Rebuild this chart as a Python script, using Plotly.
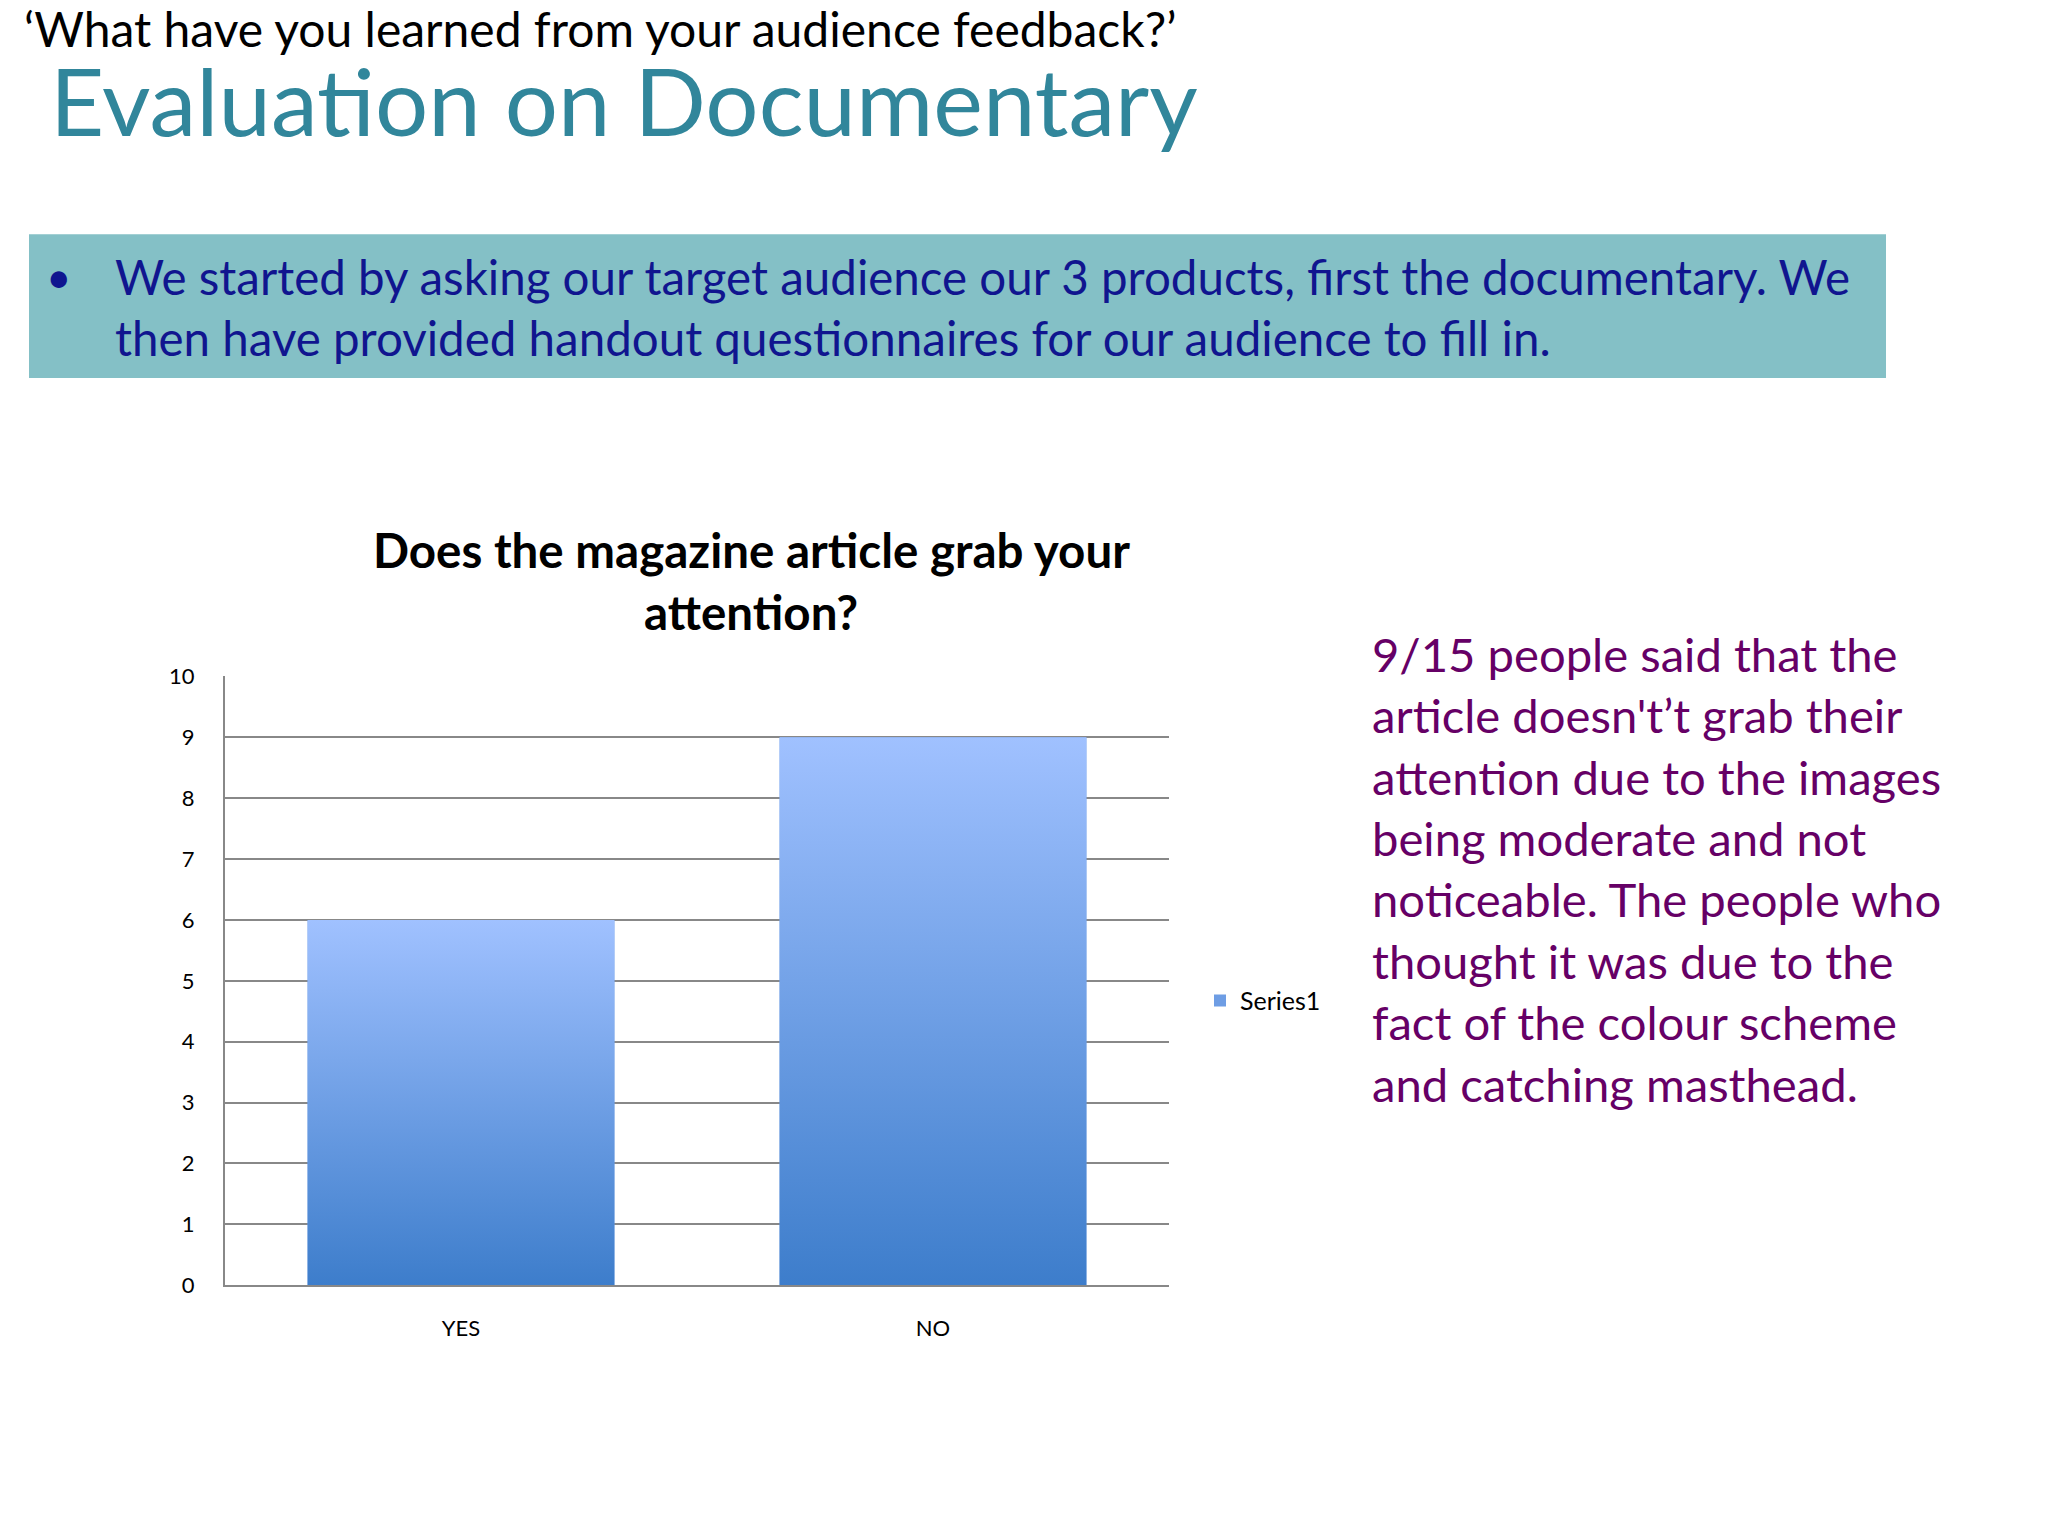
import plotly.graph_objects as go

# ---- data ----
CATEGORIES = ["YES", "NO"]
VALUES = [6, 9]
SERIES_NAME = "Series1"
Y_TICKS = [0, 1, 2, 3, 4, 5, 6, 7, 8, 9, 10]

QUOTE = "\u2018What have you learned from your audience feedback?\u2019"
SLIDE_TITLE = "Evaluation on Documentary"
BOX_LINES = [
    "We started by asking our target audience our 3 products, first the documentary. We",
    "then have provided handout questionnaires for our audience to fill in.",
]
CHART_TITLE_LINES = ["Does the magazine article grab your", "attention?"]
NOTE_LINES = [
    "9/15 people said that the",
    "article doesn't\u2019t grab their",
    "attention due to the images",
    "being moderate and not",
    "noticeable. The people who",
    "thought it was due to the",
    "fact of the colour scheme",
    "and catching masthead.",
]

OFF = 8  # page body margin
W, H = 2048 - 2 * OFF, 1536 - 2 * OFF
FONT = "Lato"
# measured vertical page mapping: shown_y = VS * y + VO
VS, VO = 0.984, 11.6


def px(x):
    return (x - OFF) / W


def py(y):
    y = (y - VO) / VS
    return 1 - (y - OFF) / H


BAR_W = 0.65
fig = go.Figure()
fig.add_trace(go.Bar(
    x=list(range(len(CATEGORIES))), y=VALUES, width=BAR_W, name=SERIES_NAME,
    marker=dict(color="#6E9DE4", line=dict(width=0)), showlegend=True,
))
hw = BAR_W / 2
for i, v in enumerate(VALUES):
    fig.add_trace(go.Scatter(
        x=[i - hw, i + hw, i + hw, i - hw, i - hw], y=[0, 0, v, v, 0],
        fill="toself", mode="none",
        fillgradient=dict(type="vertical", colorscale=[[0, "#3D7DCB"], [1, "#A0C1FF"]]),
        showlegend=False, hoverinfo="skip",
    ))


def ann(x, y, text, size, color, xanchor="left"):
    return dict(x=px(x), y=py(y), xref="paper", yref="paper", text=text, showarrow=False,
                xanchor=xanchor, yanchor="middle",
                font=dict(family=FONT, size=size, color=color))


annotations = []
annotations.append(ann(22, 26, QUOTE, 48, "#000000"))
annotations.append(ann(48, 97, SLIDE_TITLE, 94, "#31869B"))
annotations.append(ann(59, 274, "\u2022", 44, "#10158F", "center"))
for k, line in enumerate(BOX_LINES):
    annotations.append(ann(113, 274 + 62 * k, line, 47.5, "#10158F"))
for k, line in enumerate(CHART_TITLE_LINES):
    annotations.append(ann(751, 548 + 62 * k, "<b>" + line + "</b>", 47.5, "#000000", "center"))
for k, line in enumerate(NOTE_LINES):
    annotations.append(ann(1370, 652 + 61.5 * k, line, 47.2, "#660066"))

fig.update_layout(
    width=W, height=H,
    margin=dict(l=0, r=0, t=0, b=0),
    paper_bgcolor="white", plot_bgcolor="white",
    font=dict(family=FONT, color="#000000"),
    shapes=[dict(type="rect", xref="paper", yref="paper", x0=px(29), x1=px(1886),
                 y0=py(376), y1=py(232), fillcolor="#84C0C6", line=dict(width=0), layer="below")],
    annotations=annotations,
    xaxis=dict(domain=[px(225), px(1169)], range=[-0.5, len(CATEGORIES) - 0.5],
               tickvals=list(range(len(CATEGORIES))), ticktext=CATEGORIES,
               showgrid=False, zeroline=False, showline=True, linecolor="#888888", linewidth=2,
               ticks="", ticklabelstandoff=22, tickfont=dict(family=FONT, size=22, color="#000000"),
               fixedrange=True),
    yaxis=dict(domain=[py(1285), py(675)], range=[0, 10], tickvals=Y_TICKS,
               showgrid=True, gridcolor="#888888", gridwidth=2, zeroline=False,
               showline=True, linecolor="#888888", linewidth=2,
               ticks="", ticklabelstandoff=24, tickfont=dict(family=FONT, size=22, color="#000000"),
               fixedrange=True),
    legend=dict(x=px(1200), y=py(1000), xanchor="left", yanchor="middle",
                font=dict(family=FONT, size=25, color="#000000"), itemwidth=30,
                bgcolor="rgba(0,0,0,0)"),
    showlegend=True,
    bargap=0.35,
)

fig.write_html("out.html")
